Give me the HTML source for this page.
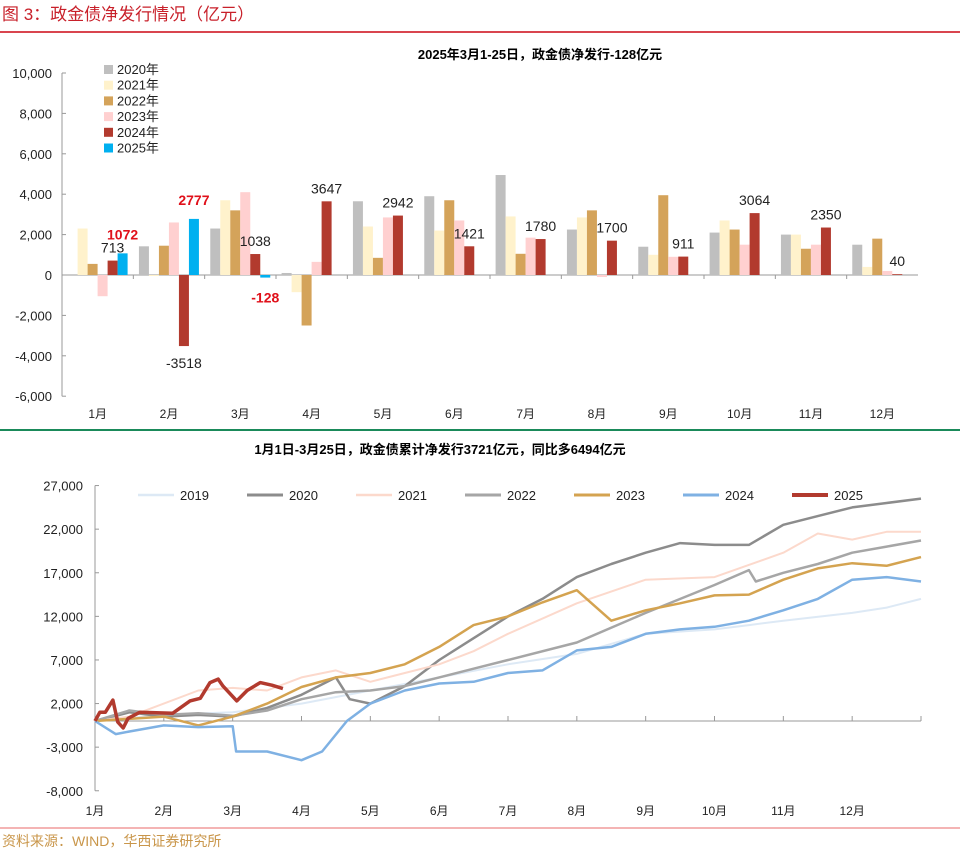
<!DOCTYPE html>
<html><head><meta charset="utf-8"><style>
body{margin:0;background:#fff;width:960px;height:855px;overflow:hidden;font-family:"Liberation Sans","Noto Sans CJK SC",sans-serif;}
svg text{font-family:"Liberation Sans","Noto Sans CJK SC",sans-serif;}
</style></head><body>
<svg id="s" width="960" height="855" xmlns="http://www.w3.org/2000/svg">
<text x="2" y="20" font-size="17" fill="#c8202a">图 3：政金债净发行情况（亿元）</text>
<line x1="0" y1="32" x2="960" y2="32" stroke="#d9454f" stroke-width="2"/>
<text x="540" y="59" font-size="13" font-weight="bold" text-anchor="middle" fill="#000">2025年3月1-25日，政金债净发行-128亿元</text>
<line x1="0" y1="430" x2="960" y2="430" stroke="#1a8a5a" stroke-width="2"/>
<text x="440" y="454" font-size="13" font-weight="bold" text-anchor="middle" fill="#000">1月1日-3月25日，政金债累计净发行3721亿元，同比多6494亿元</text>
<line x1="0" y1="828" x2="960" y2="828" stroke="#e86a6a" stroke-width="1"/>
<text x="2" y="846" font-size="14" fill="#c9964a">资料来源：WIND，华西证券研究所</text>
<g id="topChart"></g><g id="botChart"></g>
</svg>
<script>
// ---- top bar chart data ----
const months = ['1月','2月','3月','4月','5月','6月','7月','8月','9月','10月','11月','12月'];
const yearsBar = ['2020年','2021年','2022年','2023年','2024年','2025年'];
const v2020 = [-20,1420,2300,100,3650,3900,4950,2250,1400,2100,2000,1500];
const v2021 = [2300,-50,3700,-850,2400,2200,2900,2850,1000,2700,2000,400];
const v2022 = [550,1450,3200,-2500,850,3700,1050,3200,3950,2250,1300,1800];
const v2023 = [-1050,2600,4100,650,2850,2700,1850,-100,900,1500,1500,200];
const v2024 = [713,-3518,1038,3647,2942,1421,1780,1700,911,3064,2350,40];
const v2025 = [1072,2777,-128];
const yTicksTop = [10000,8000,6000,4000,2000,0,-2000,-4000,-6000];
// ---- bottom line chart data (x in months from Jan 1) ----
const lineYears = ['2019','2020','2021','2022','2023','2024','2025'];
const x2019 = [0,1,2,3,4,5,6,7,8,9,9.5,10,11,11.5,12];
const c2019 = [0,700,1000,2000,3500,5000,6500,7700,10000,10500,11000,11500,12400,13000,14000];
const x2020 = [0,0.5,1,1.5,2,2.5,3,3.5,3.7,4,4.5,5,5.5,6,6.5,7,7.5,8,8.5,9,9.5,10,10.5,11,11.5,12];
const c2020 = [0,1000,500,700,500,1500,3000,5000,2500,2000,4000,7000,9500,12000,14000,16500,18000,19300,20400,20200,20200,22500,23500,24500,25000,25500];
const x2021 = [0,0.5,1,1.5,2,2.5,3,3.5,4,4.5,5,5.5,6,7,8,9,10,10.5,11,11.5,12];
const c2021 = [0,500,2000,3500,3800,3500,5000,5800,4500,5500,6500,8000,10000,13500,16200,16500,19300,21500,20800,21700,21700];
const x2022 = [0,0.5,1,1.5,2,2.5,3,3.5,4,4.5,5,5.5,6,7,8,9,9.5,9.6,10,10.5,11,11.5,12];
const c2022 = [0,1200,700,900,600,1200,2500,3300,3500,4000,5000,6000,7000,9000,12400,15600,17300,16000,17000,18000,19300,20000,20700];
const x2023 = [0,1,1.5,2,2.5,3,3.5,4,4.5,5,5.5,6,6.5,7,7.5,8,8.5,9,9.5,10,10.5,11,11.5,12];
const c2023 = [0,500,-500,500,2000,3900,5000,5500,6500,8500,11000,12000,13600,15000,11500,12700,13500,14400,14500,16200,17500,18100,17800,18800];
const x2024 = [0,0.3,0.5,1,1.5,2,2.05,2.5,3,3.3,3.66,4,4.5,5,5.5,6,6.5,7,7.5,8,8.5,9,9.5,10,10.5,11,11.5,12];
const c2024 = [0,-1500,-1200,-500,-700,-600,-3500,-3500,-4500,-3500,0,2000,3500,4300,4500,5500,5800,8100,8500,10000,10500,10800,11500,12700,14000,16200,16500,16000];
const x2025 = [0,0.07,0.15,0.26,0.33,0.41,0.48,0.65,1.13,1.38,1.53,1.67,1.79,1.86,2.06,2.21,2.4,2.57,2.73];
const c2025 = [0,1000,1000,2400,-100,-800,300,1000,900,2300,2600,4400,4800,4000,2300,3500,4400,4100,3721];
const yTicksBot = [27000,22000,17000,12000,7000,2000,-3000,-8000];

const NS='http://www.w3.org/2000/svg';
function mk(tag,attrs,parent,txt){const e=document.createElementNS(NS,tag);for(const k in attrs)e.setAttribute(k,attrs[k]);if(txt!==undefined)e.textContent=txt;parent.appendChild(e);return e;}
const fmt=v=>v.toLocaleString('en-US');

// top chart
const topG=document.getElementById('topChart');
const tx0=62,tx1=918,gw=(tx1-tx0)/12;
const ty=v=>275-v*(202/10000);
const ax=mk('line',{x1:tx0,y1:ty(10000),x2:tx0,y2:ty(-6000),stroke:'#999'},topG);


yTicksTop.forEach(v=>{
  const t=mk('text',{x:52,y:ty(v)+5,'font-size':13,'text-anchor':'end',fill:'#222'},topG,fmt(v));
  
  
  mk('line',{x1:tx0,y1:ty(v),x2:tx0+4,y2:ty(v),stroke:'#999'},topG);
});
const zl=mk('line',{x1:tx0,y1:ty(0),x2:tx1,y2:ty(0),stroke:'#999'},topG);


const barCols=['#bfbfbf','#fff2cc','#d4a35a','#ffd0d0','#b23a2e','#00b0f0'];
const series=[v2020,v2021,v2022,v2023,v2024,v2025];
months.forEach((m,i)=>{
  const gx=tx0+i*gw;
  mk('line',{x1:gx,y1:ty(0),x2:gx,y2:ty(0)+4,stroke:'#999'},topG);
  const t=mk('text',{x:gx+gw/2,y:418,'font-size':12,'text-anchor':'middle',fill:'#222'},topG,m);
  
  
  series.forEach((s,j)=>{
    if(s[i]===undefined)return;
    const bx=gx+5.6+j*10,y0=ty(0),y1=ty(s[i]);
    const r=mk('rect',{x:bx,y:Math.min(y0,y1),width:10,height:Math.max(Math.abs(y1-y0),0.8),fill:barCols[j]},topG);
    
    
  });
  const v4=v2024[i];
  const ly=v4>=0?ty(v4)-8:ty(v4)+22;
  const lt=mk('text',{x:gx+5.6+45,y:ly,'font-size':14,'text-anchor':'middle',fill:'#222'},topG,String(v4));
  
  
  if(v2025[i]!==undefined){
    const v5=v2025[i];
    const l5=mk('text',{x:gx+5.6+55,y:v5>=0?ty(v5)-14:ty(v5)+25,'font-size':14,'font-weight':'bold','text-anchor':'middle',fill:'#e0101a'},topG,String(v5));
    
    
  }
});
yearsBar.forEach((y,j)=>{
  const r=mk('rect',{x:104,y:65+j*15.7,width:9,height:9,fill:barCols[j]},topG);
  
  
  const t=mk('text',{x:117,y:74+j*15.7,'font-size':13,fill:'#222'},topG,y);
  
  
});

// bottom chart
const botG=document.getElementById('botChart');
const bx0=95,bmw=(921-95)/12;
const bxf=m=>bx0+m*bmw;
const byf=v=>721-v*(43.6/5000);
const bax=mk('line',{x1:bx0,y1:byf(27000),x2:bx0,y2:byf(-8000),stroke:'#999'},botG);


yTicksBot.forEach(v=>{
  const t=mk('text',{x:83,y:byf(v)+5,'font-size':13,'text-anchor':'end',fill:'#222'},botG,fmt(v));
  
  
  mk('line',{x1:bx0,y1:byf(v),x2:bx0+4,y2:byf(v),stroke:'#999'},botG);
});
const bxl=mk('line',{x1:bx0,y1:byf(0),x2:921,y2:byf(0),stroke:'#999'},botG);


for(let i=0;i<=12;i++){mk('line',{x1:bxf(i),y1:byf(0),x2:bxf(i),y2:byf(0)-5,stroke:'#999'},botG);}
months.forEach((m,i)=>{
  const t=mk('text',{x:bxf(i),y:815,'font-size':12,'text-anchor':'middle',fill:'#222'},botG,m);
  
  
});
const lxs=[x2019,x2020,x2021,x2022,x2023,x2024,x2025];
const lcs=[c2019,c2020,c2021,c2022,c2023,c2024,c2025];
const lcol=['#dde9f5','#8c8c8c','#fcd9cc','#a6a6a6','#d4a350','#7fb1e3','#b23a2e'];
const lw=[2,2.5,2,2.5,2.5,2.5,3.5];
lineYears.forEach((y,k)=>{
  const d=lxs[k].map((m,i)=>(i?'L':'M')+bxf(m).toFixed(1)+','+byf(lcs[k][i]).toFixed(1)).join(' ');
  const p=mk('path',{d:d,fill:'none',stroke:lcol[k],'stroke-width':lw[k],'stroke-linejoin':'round'},botG);
  
  
  const lgx=138+k*109;
  const ll=mk('line',{x1:lgx,y1:495,x2:lgx+36,y2:495,stroke:lcol[k],'stroke-width':lw[k]+0.5},botG);
  
  
  const lt=mk('text',{x:lgx+42,y:500,'font-size':13,fill:'#222'},botG,y);
  
  
});
</script>
</body></html>
